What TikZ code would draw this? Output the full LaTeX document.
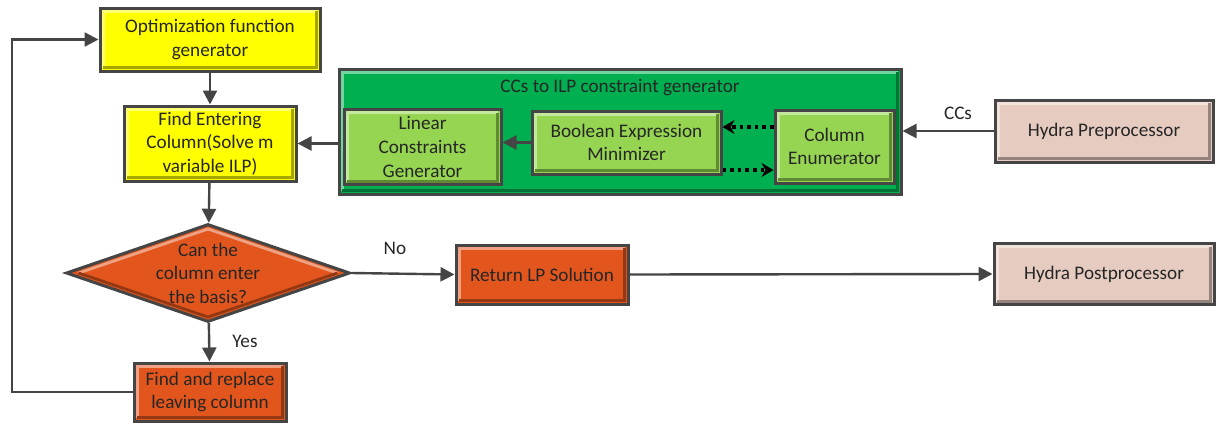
\documentclass[tikz,border=0pt]{standalone}
\usepackage{fontspec}
\setmainfont{Carlito}
\usepackage{xcolor}
\usetikzlibrary{shapes.geometric, arrows.meta, calc}

\definecolor{edge}{HTML}{454545}
\definecolor{yel}{HTML}{FFFF00}
\definecolor{grn}{HTML}{00B050}
\definecolor{lgrn}{HTML}{96D552}
\definecolor{org}{HTML}{E2561E}
\definecolor{pnk}{HTML}{E6CBC0}

\begin{document}
\begin{tikzpicture}[x=0.5pt, y=-0.5pt,
    every node/.style={font=\fontsize{9.6}{11.8}\selectfont, text=black!85},
    block/.style={rectangle, draw=edge, line width=1.5pt, fill=#1, align=center, inner sep=0pt,
        path picture={
            \draw[#1!55!white, line width=1.6pt]
                ([shift={(1.6pt,1.6pt)}]path picture bounding box.south west) |-
                ([shift={(-1.6pt,-1.6pt)}]path picture bounding box.north east);
            \draw[#1!65!black, line width=1.6pt]
                ([shift={(1.6pt,1.6pt)}]path picture bounding box.south west) -|
                ([shift={(-1.6pt,-1.6pt)}]path picture bounding box.north east);}},
    decision/.style={diamond, draw=edge, line width=1.5pt, fill=#1, align=center, inner sep=-2pt,
        aspect=2.9,
        path picture={
            \draw[#1!55!white, line width=1.4pt]
                ([xshift=-6pt]path picture bounding box.east) --
                ([yshift=-2.2pt]path picture bounding box.north) --
                ([xshift=6pt]path picture bounding box.west);
            \draw[#1!65!black, line width=1.4pt]
                ([xshift=6pt]path picture bounding box.west) --
                ([yshift=2.2pt]path picture bounding box.south) --
                ([xshift=-6pt]path picture bounding box.east);}},
    arr/.style={draw=edge, line width=1.2pt, -{Triangle[length=7pt, width=7pt]}},
    dots/.style={draw=black, line width=1.8pt, dash pattern=on 1.8pt off 2pt,
        -{Stealth[length=6pt, width=7pt]}}
]
    \useasboundingbox (0,0) rectangle (1218,423);

    \node[block=yel, minimum width=110pt, minimum height=31.5pt] (opt) at (210,39.5)
        {Optimization function\\generator};
    \node[block=yel, minimum width=86pt, minimum height=37.5pt] (enter) at (210,143.5)
        {Find Entering\\Column(Solve m\\variable ILP)};
    \node[decision=org, minimum width=142pt, minimum height=49pt] (dec) at (208,273)
        {Can the\\column enter\\the basis?};
    \node[block=org, minimum width=76pt, minimum height=29pt] (repl) at (210,392)
        {Find and replace\\leaving column};
    \node[block=org, minimum width=86pt, minimum height=29.5pt] (ret) at (542,274.5)
        {Return LP Solution};
    \node[block=pnk, minimum width=110pt, minimum height=30.5pt] (post) at (1104,274)
        {Hydra Postprocessor};
    \node[block=pnk, minimum width=109pt, minimum height=31pt] (pre) at (1104,131)
        {Hydra Preprocessor};

    \node[block=grn, minimum width=281pt, minimum height=62.5pt] (cc) at (620,131.5) {};
    \node (cctitle) at (620,88) {CCs to ILP constraint generator};
    \node[block=lgrn, minimum width=78.5pt, minimum height=37.5pt] (lin) at (422.5,147)
        {Linear\\Constraints\\Generator};
    \node[block=lgrn, minimum width=94.5pt, minimum height=31.5pt] (bool) at (626.5,142.5)
        {Boolean Expression\\Minimizer};
    \node[block=lgrn, minimum width=59.5pt, minimum height=36.5pt] (col) at (834.5,146.5)
        {Column\\Enumerator};

    \coordinate (loop) at (12,0);
    \coordinate (up) at ($(col.west)+(0,-19.5)$);
    \coordinate (down) at ($(bool.east)+(0,27.5)$);

    \draw[arr] (opt) -- (enter);
    \draw[arr] (enter) -- (dec);
    \draw[arr] (dec) -- (repl);
    \draw[arr] (repl.west) -- (repl.west -| loop) -- (opt.west -| loop) -- (opt.west);
    \draw[arr] (dec.east) -- (ret.west);
    \draw[arr] (ret.east) -- (post.west);
    \draw[arr] (pre.west) -- (pre.west -| cc.east);
    \draw[arr] (enter.east -| cc.west) -- (enter.east);
    \draw[arr] (bool.west) -- (bool.west -| lin.east);
    \draw[dots] (up) -- (up -| bool.east);
    \draw[dots] (down) -- (down -| col.west);

    \node (yes) at (245,341) {Yes};
    \node (no) at (395,248) {No};
    \node (ccs) at (958,113) {CCs};
\end{tikzpicture}
\end{document}
